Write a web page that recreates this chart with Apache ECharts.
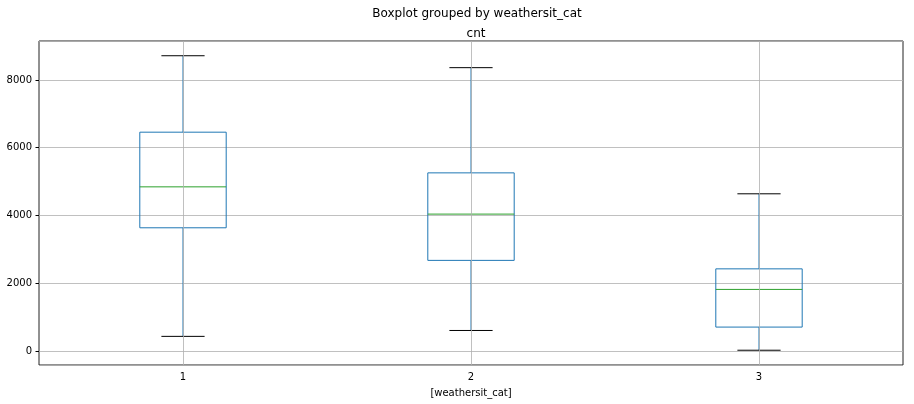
<!DOCTYPE html>
<html>
<head>
<meta charset="utf-8">
<script src="https://cdn.jsdelivr.net/npm/echarts@6/dist/echarts.min.js"></script>
<style>
  html, body { margin: 0; padding: 0; background: #fff; }
  #main { width: 914px; height: 404px; }
</style>
</head>
<body>
<div id="main"></div>
<script>
// categories and five-number summaries
var categories = ['1', '2', '3'];
var whiskerLow = [431, 605, 22];
var q1 = [3636, 2674, 705];
var median = [4844, 4040, 1817];
var q3 = [6458, 5257, 2424];
var whiskerHigh = [8714, 8362, 4639];

var boxData = categories.map(function (c, i) {
    return [i, whiskerLow[i], q1[i], median[i], q3[i], whiskerHigh[i]];
});

var myChart = echarts.init(document.getElementById('main'));

function renderBox(params, api) {
    var idx = api.value(0);
    var band = api.size([1, 0])[0];
    var boxW = band * 0.3;
    var capW = boxW / 2;
    var pLow = api.coord([idx, api.value(1)]);
    var pQ1 = api.coord([idx, api.value(2)]);
    var pMed = api.coord([idx, api.value(3)]);
    var pQ3 = api.coord([idx, api.value(4)]);
    var pHigh = api.coord([idx, api.value(5)]);
    var cx = pMed[0];
    var blue = { stroke: '#1f77b4', lineWidth: 1, fill: null };
    return {
        type: 'group',
        children: [
            // whiskers
            { type: 'line', shape: { x1: cx, y1: pQ1[1], x2: cx, y2: pLow[1] }, style: blue },
            { type: 'line', shape: { x1: cx, y1: pQ3[1], x2: cx, y2: pHigh[1] }, style: blue },
            // box
            { type: 'rect', shape: { x: cx - boxW / 2, y: pQ3[1], width: boxW, height: pQ1[1] - pQ3[1] }, style: blue },
            // median
            { type: 'line', shape: { x1: cx - boxW / 2, y1: pMed[1], x2: cx + boxW / 2, y2: pMed[1] },
              style: { stroke: '#2ca02c', lineWidth: 1 } },
            // caps
            { type: 'line', shape: { x1: cx - capW / 2, y1: pLow[1], x2: cx + capW / 2, y2: pLow[1] },
              style: { stroke: '#000', lineWidth: 1 } },
            { type: 'line', shape: { x1: cx - capW / 2, y1: pHigh[1], x2: cx + capW / 2, y2: pHigh[1] },
              style: { stroke: '#000', lineWidth: 1 } }
        ]
    };
}

var option = {
    backgroundColor: '#fff',
    animation: false,
    textStyle: { fontFamily: 'DejaVu Sans' },
    title: [
        { text: 'Boxplot grouped by weathersit_cat', left: 472, textAlign: 'center', top: 3,
          textStyle: { fontSize: 12, fontWeight: 'normal', color: '#000', fontFamily: 'DejaVu Sans' } },
        { text: 'cnt', left: 471, textAlign: 'center', top: 23,
          textStyle: { fontSize: 12, fontWeight: 'normal', color: '#000', fontFamily: 'DejaVu Sans' } }
    ],
    grid: {
        left: 39, right: 11, top: 41, bottom: 39,
        outerBoundsMode: 'none',
        containLabel: false,
        show: true, borderColor: '#222', borderWidth: 1, backgroundColor: 'transparent'
    },
    xAxis: {
        type: 'category',
        data: categories,
        name: '[weathersit_cat]',
        nameLocation: 'middle',
        nameGap: 23,
        nameTextStyle: { fontSize: 10, color: '#000' },
        axisLine: { show: false },
        axisTick: { alignWithLabel: true, length: 3.5, lineStyle: { color: '#000' } },
        axisLabel: { fontSize: 10, color: '#000', margin: 7 },
        splitLine: { show: false }
    },
    yAxis: {
        type: 'value',
        min: -414,
        max: 9149,
        splitNumber: 5,
        axisLine: { show: false },
        axisTick: { show: true, length: 3.5, lineStyle: { color: '#000' } },
        axisLabel: { fontSize: 10, color: '#000', margin: 7, showMinLabel: false, showMaxLabel: false,
                     formatter: function (v) { return String(v); } },
        splitLine: { show: true, lineStyle: { color: '#b0b0b0', width: 0.8 } }
    },
    series: [{
        // vertical grid lines at category centres
        type: 'line',
        data: [],
        z: 1,
        silent: true,
        markLine: {
            silent: true,
            symbol: 'none',
            label: { show: false },
            lineStyle: { color: '#b0b0b0', width: 0.8, type: 'solid' },
            data: categories.map(function (c) { return { xAxis: c }; })
        }
    }, {
        type: 'custom',
        z: 3,
        renderItem: renderBox,
        encode: { x: 0, y: [1, 2, 3, 4, 5] },
        data: boxData
    }]
};
myChart.setOption(option);
</script>
</body>
</html>
